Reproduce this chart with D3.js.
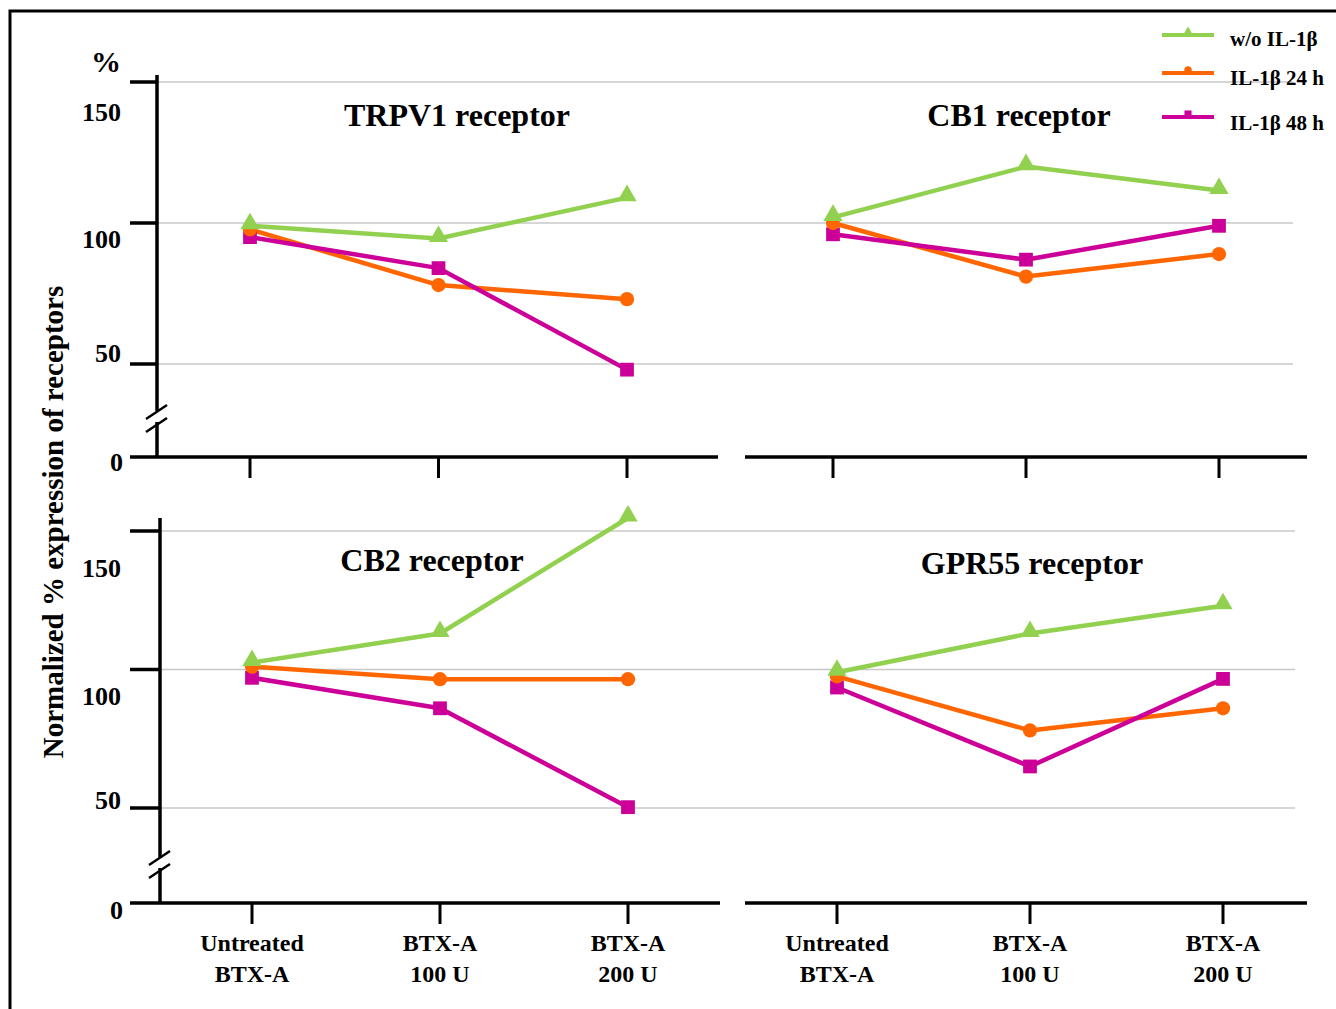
<!DOCTYPE html>
<html>
<head>
<meta charset="utf-8">
<script src="https://cdn.jsdelivr.net/npm/d3@7"></script>
<style>
  body { margin: 0; background: #fff; }
  svg { display: block; }
  text { font-family: "Liberation Serif", "Times New Roman", serif; font-weight: bold; fill: #000; }
</style>
</head>
<body>
<div id="chart"></div>
<script>
// data (normalized % expression)
const categories = ["Untreated BTX-A", "BTX-A 100 U", "BTX-A 200 U"];
const seriesNames = ["w/o IL-1\u03b2", "IL-1\u03b2 24 h", "IL-1\u03b2 48 h"];
const panelTitles = ["TRPV1 receptor", "CB1 receptor", "CB2 receptor", "GPR55 receptor"];
const yTicks = [50, 100, 150];

const trpv1 = [[99, 94.5, 109], [97.7, 78, 73], [95, 84, 48]];
const cb1   = [[102, 120, 111.5], [100, 81, 89], [96, 87, 99]];
const cb2   = [[102.5, 113, 154.7], [101, 96.5, 96.5], [97, 86, 50.3]];
const gpr55 = [[99, 113, 123], [97.5, 78, 86], [93.5, 65, 96.6]];

const colors = ["#92d050", "#ff6600", "#cc0099"];

const width = 1336, height = 1009;
const svg = d3.select("#chart").append("svg").attr("width", width).attr("height", height);

// outer frame (top + left only)
svg.append("path").attr("d", "M10,1009 L10,11 L1336,11").attr("fill", "none")
   .attr("stroke", "#000").attr("stroke-width", 3);

// layout of the two rows / columns
const rows = [
  { top: 82, bottom: 364, zero: 457, axisTop: 75, gridEnd: 1293, labelDy: [-11, 16, 30], zeroDy: 5 },
  { top: 531, bottom: 808, zero: 903, axisTop: 518, gridEnd: 1295, labelDy: [-8, 26, 37], zeroDy: 7 }
];
const cols = [
  { axisX: [157, 160], x0: [250, 252], x1: [627, 628], lineL: 130, lineR: [718, 720] },
  { x0: [833, 837], x1: [1219, 1223], lineL: 745, lineR: [1307, 1307] }
];
const panels = [
  { title: panelTitles[0], data: trpv1, row: 0, col: 0, tx: 457, ty: 126 },
  { title: panelTitles[1], data: cb1,   row: 0, col: 1, tx: 1019, ty: 126 },
  { title: panelTitles[2], data: cb2,   row: 1, col: 0, tx: 432, ty: 571 },
  { title: panelTitles[3], data: gpr55, row: 1, col: 1, tx: 1032, ty: 574 }
];

rows.forEach((r, ri) => {
  const y = d3.scaleLinear().domain([50, 150]).range([r.bottom, r.top]);
  const ax = cols[0].axisX[ri];
  const g = svg.append("g");

  // gridlines across both panels
  g.selectAll("line.grid").data(yTicks).enter().append("line")
    .attr("x1", ax).attr("x2", r.gridEnd)
    .attr("y1", d => y(d)).attr("y2", d => y(d))
    .attr("stroke", "#c8c8c8").attr("stroke-width", 1.5);

  // y axis with break
  const breakY = r.zero - 40;
  g.append("line").attr("x1", ax).attr("x2", ax).attr("y1", r.axisTop).attr("y2", breakY - 6)
    .attr("stroke", "#000").attr("stroke-width", 3.5);
  g.append("line").attr("x1", ax).attr("x2", ax).attr("y1", breakY + 5).attr("y2", r.zero)
    .attr("stroke", "#000").attr("stroke-width", 3.5);
  [-5, 8].forEach(o => {
    g.append("line").attr("x1", ax - 11).attr("x2", ax + 10)
      .attr("y1", breakY + o + 7).attr("y2", breakY + o - 7)
      .attr("stroke", "#000").attr("stroke-width", 2.5);
  });

  // y ticks and labels
  g.selectAll("line.tick").data(yTicks).enter().append("line")
    .attr("x1", 130).attr("x2", ax)
    .attr("y1", d => y(d)).attr("y2", d => y(d))
    .attr("stroke", "#000").attr("stroke-width", 3.5);
  g.selectAll("text.tick").data(yTicks).enter().append("text")
    .attr("x", 121).attr("y", (d, i) => y(d) + r.labelDy[i])
    .attr("dy", "0.35em").attr("text-anchor", "end").attr("font-size", 26)
    .text(d => d);
  g.append("text").attr("x", 123).attr("y", r.zero + r.zeroDy).attr("dy", "0.35em")
    .attr("text-anchor", "end").attr("font-size", 26).text("0");

  // x axis lines and ticks for both columns
  cols.forEach((c, ci) => {
    const x = d3.scalePoint().domain(categories).range([c.x0[ri], c.x1[ri]]);
    g.append("line").attr("x1", c.lineL).attr("x2", c.lineR[ri])
      .attr("y1", r.zero).attr("y2", r.zero).attr("stroke", "#000").attr("stroke-width", 3.5);
    g.selectAll("line.xt" + ci).data(categories).enter().append("line")
      .attr("x1", d => x(d)).attr("x2", d => x(d))
      .attr("y1", r.zero).attr("y2", r.zero + 21)
      .attr("stroke", "#000").attr("stroke-width", 3);
    if (ri === 1) {
      const lab = g.selectAll("text.xl" + ci).data(categories).enter().append("text")
        .attr("text-anchor", "middle").attr("font-size", 24);
      lab.append("tspan").attr("x", d => x(d)).attr("y", 951)
        .text(d => d.startsWith("Untreated") ? "Untreated" : "BTX-A");
      lab.append("tspan").attr("x", d => x(d)).attr("y", 982)
        .text(d => d.startsWith("Untreated") ? "BTX-A" : d.replace("BTX-A ", ""));
    }
  });
});

// "%" unit
svg.append("text").attr("x", 106).attr("y", 72).attr("text-anchor", "middle")
  .attr("font-size", 30).text("%");

// y axis title
svg.append("text").attr("transform", "translate(63,522) rotate(-90)")
  .attr("text-anchor", "middle").attr("font-size", 29)
  .text("Normalized % expression of receptors");

// panels: lines + markers
const tri = d3.symbol().type(d3.symbolTriangle).size(160);
const sq = d3.symbol().type(d3.symbolSquare).size(190);
const circ = d3.symbol().type(d3.symbolCircle).size(160);
const shapes = [tri, circ, sq];

panels.forEach(p => {
  const r = rows[p.row], c = cols[p.col];
  const x = d3.scalePoint().domain(categories).range([c.x0[p.row], c.x1[p.row]]);
  const y = d3.scaleLinear().domain([50, 150]).range([r.bottom, r.top]);
  const g = svg.append("g");

  g.append("text").attr("x", p.tx).attr("y", p.ty).attr("text-anchor", "middle")
    .attr("font-size", 32).text(p.title);

  const line = d3.line().x((d, i) => x(categories[i])).y(d => y(d));
  p.data.forEach((vals, si) => {
    g.append("path").attr("d", line(vals)).attr("fill", "none")
      .attr("stroke", colors[si]).attr("stroke-width", 4.5).attr("stroke-linejoin", "round");
  });
  [2, 1, 0].forEach(si => {
    g.selectAll("path.m" + si).data(p.data[si]).enter().append("path")
      .attr("d", shapes[si])
      .attr("transform", (d, i) => `translate(${x(categories[i])},${y(d) - (si === 0 ? 2 : 0)})`)
      .attr("fill", colors[si]);
  });
});

// legend
const legY = [35, 73, 117];
const leg = svg.append("g");
seriesNames.forEach((name, i) => {
  leg.append("line").attr("x1", 1162).attr("x2", 1214).attr("y1", legY[i]).attr("y2", legY[i])
    .attr("stroke", colors[i]).attr("stroke-width", 4);
  const m = [d3.symbol().type(d3.symbolTriangle).size(40), d3.symbol().type(d3.symbolCircle).size(45),
             d3.symbol().type(d3.symbolSquare).size(50)][i];
  leg.append("path").attr("d", m).attr("transform", `translate(1188,${legY[i] - 3})`).attr("fill", colors[i]);
  leg.append("text").attr("x", 1230).attr("y", legY[i] + [11, 12, 13][i])
    .attr("font-size", 21).text(name);
});
</script>
</body>
</html>
